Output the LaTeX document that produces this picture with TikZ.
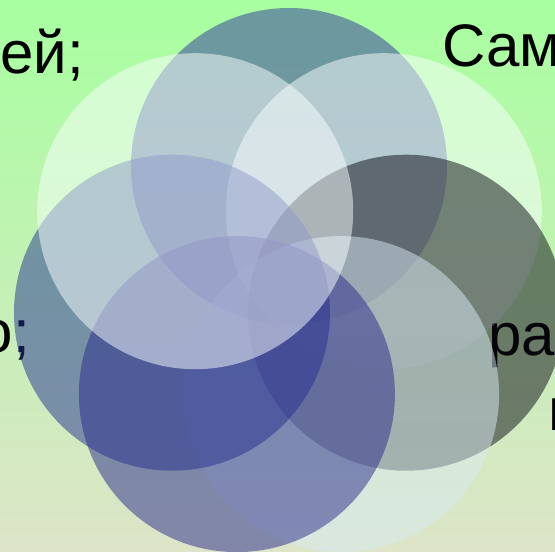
\documentclass[tikz,border=0pt]{standalone}
\usepackage{fontspec}
\setmainfont{Liberation Sans}
\definecolor{bgtop}{RGB}{168,255,160}
\definecolor{bgmid}{RGB}{188,242,178}
\definecolor{bgbot}{RGB}{221,228,200}
\definecolor{cone}{RGB}{48,53,156}
\definecolor{cwhite}{RGB}{250,255,255}
\definecolor{cfour}{RGB}{36,52,148}
\definecolor{cfive}{RGB}{10,10,20}
\definecolor{csix}{RGB}{40,42,140}
\definecolor{cseven}{RGB}{216,234,244}
\begin{document}
\begin{tikzpicture}[x=1pt,y=-1pt,
  disc/.style={fill opacity=0.5},
  lbl/.style={font=\fontsize{60}{72}\selectfont, inner sep=0pt, text=black}]
\useasboundingbox (0,0) rectangle (555,552);
\clip (0,0) rectangle (555,552);
\shade[top color=bgtop, middle color=bgmid, bottom color=bgbot] (0,0) rectangle (555,552);
% texts lying under the circles
\node[lbl, anchor=base east] (t1) at (84,73) {ей;};
\node[lbl, anchor=base west] (t2) at (442,66) {Сам};
\node[lbl, anchor=base east] (t3) at (30,352) {о;};
\node[lbl, anchor=base west] (t4) at (488,355) {ра};
\node[lbl, anchor=base west] (t5) at (548,430) {п};
% circles
\fill[disc, cone]   (289.0,166.0) circle (158);
\fill[disc, cwhite] (383.8,211.2) circle (158);
\fill[disc, cfive]  (406.0,312.7) circle (158);
\fill[disc, cseven] (341.1,394.1) circle (158);
\fill[disc, cfour]  (172.0,312.7) circle (158);
\fill[disc, csix]   (236.9,394.1) circle (158);
\fill[disc, cwhite] (195.2,211.2) circle (158);
\end{tikzpicture}
\end{document}
